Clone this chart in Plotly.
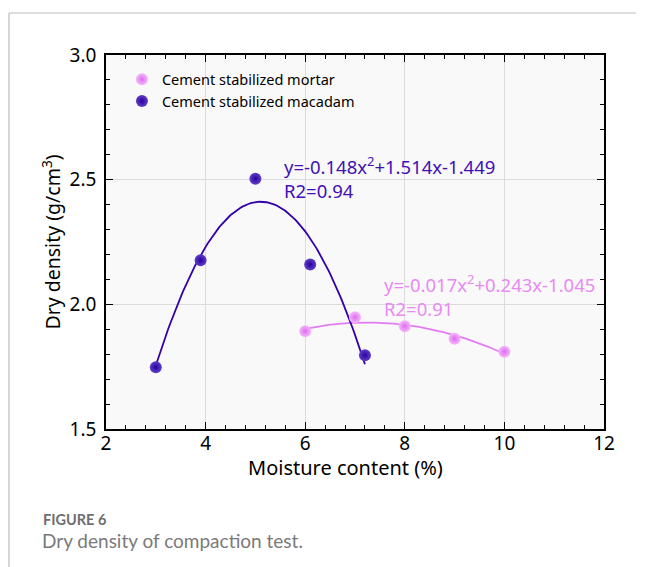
import numpy as np
import plotly.graph_objects as go

# Data
mortar_x = [6, 7, 8, 9, 10]
mortar_y = [1.892, 1.948, 1.912, 1.862, 1.810]
macadam_x = [3.0, 3.9, 5.0, 6.1, 7.2]
macadam_y = [1.748, 2.177, 2.504, 2.160, 1.796]

mortar_eq = "y=-0.017x<sup>2</sup>+0.243x-1.045<br>R2=0.91"
macadam_eq = "y=-0.148x<sup>2</sup>+1.514x-1.449<br>R2=0.94"

C_MAC = "#3300AA"
C_MOR = "#E27CF2"

FONT = "Noto Sans"

# page body has an 8px margin: figure is drawn at (8, 8)
PL, PT, PW, PH = 98, 47, 498, 374
W, H = 638, 559

def px_x(px):
    return (px - 8 - PL) / PW

def px_y(py):
    return 1 - (py - 8 - PT) / PH

def fit_curve(xs, ys):
    c = np.polyfit(xs, ys, 2)
    xx = np.linspace(min(xs), max(xs), 120)
    return xx, np.polyval(c, xx)

fig = go.Figure()

mx, my = fit_curve(mortar_x, mortar_y)
kx, ky = fit_curve(macadam_x, macadam_y)

fig.add_trace(go.Scatter(x=mx, y=my, mode="lines", line=dict(color=C_MOR, width=1.8),
                         showlegend=False, hoverinfo="skip"))
fig.add_trace(go.Scatter(x=kx, y=ky, mode="lines", line=dict(color=C_MAC, width=1.8),
                         showlegend=False, hoverinfo="skip"))

fig.add_trace(go.Scatter(x=mortar_x, y=mortar_y, mode="markers", name="Cement stabilized mortar",
                         marker=dict(size=12, color="#F5B8FA",
                                     gradient=dict(type="radial", color="#DE6CF0"),
                                     line=dict(width=0))))
fig.add_trace(go.Scatter(x=macadam_x, y=macadam_y, mode="markers", name="Cement stabilized macadam",
                         marker=dict(size=12, color="#6040C8",
                                     gradient=dict(type="radial", color="#2A00A0"),
                                     line=dict(width=0))))

fig.add_annotation(x=5.54, y=2.508, xref="x", yref="y", text=macadam_eq, showarrow=False,
                   xanchor="left", yanchor="middle", align="left",
                   font=dict(family=FONT, size=18.5, color="#3F10B8"))
fig.add_annotation(x=7.54, y=2.034, xref="x", yref="y", text=mortar_eq, showarrow=False,
                   xanchor="left", yanchor="middle", align="left",
                   font=dict(family=FONT, size=18.5, color="#E88AF2"))

# Outer frame (top and left edges only visible)
fig.add_shape(type="line", xref="paper", yref="paper",
              x0=px_x(9), x1=px_x(636), y0=px_y(13), y1=px_y(13),
              line=dict(color="#BDBDBD", width=1.2), layer="below")
fig.add_shape(type="line", xref="paper", yref="paper",
              x0=px_x(9), x1=px_x(9), y0=px_y(13), y1=px_y(620),
              line=dict(color="#BDBDBD", width=1.2), layer="below")

# x-axis title (slightly left of centre as in the original)
fig.add_annotation(x=px_x(345.5), y=px_y(467), xref="paper", yref="paper",
                   text="Moisture content (%)", showarrow=False, xanchor="center", yanchor="middle",
                   font=dict(family=FONT, size=20, color="black"))

# Caption
fig.add_annotation(x=px_x(41), y=px_y(519), xref="paper", yref="paper",
                   text="<b>FIGURE 6</b>", showarrow=False, xanchor="left", yanchor="middle",
                   font=dict(family="Lato", size=14.5, color="#6E6E6E"))
fig.add_annotation(x=px_x(40), y=px_y(540), xref="paper", yref="paper",
                   text="Dry density of compaction test.", showarrow=False, xanchor="left",
                   yanchor="middle", font=dict(family="Lato", size=19, color="#7A7A7A"))

axis_common = dict(showline=True, linecolor="black", linewidth=1.5, mirror="ticks",
                   ticks="inside", ticklen=7, tickwidth=1.2, tickcolor="black",
                   showgrid=True, gridcolor="#DCDCDC", gridwidth=1, zeroline=False,
                   tickfont=dict(family=FONT, size=19, color="black"))

fig.update_xaxes(range=[2, 12], dtick=2, tick0=2, ticklabelstandoff=-4,
                 minor=dict(dtick=0.4, ticks="inside", ticklen=4, tickcolor="black", showgrid=False),
                 **axis_common)
fig.update_yaxes(range=[1.5, 3.0], dtick=0.5, tick0=1.5, tickformat=".1f", ticklabelstandoff=4,
                 minor=dict(dtick=0.1, ticks="inside", ticklen=4, tickcolor="black", showgrid=False),
                 title=dict(text="Dry density (g/cm<sup>3</sup>)", font=dict(family=FONT, size=19.5, color="black"),
                            standoff=4),
                 **axis_common)

fig.update_layout(
    width=W, height=H,
    margin=dict(l=PL, r=W - PL - PW, t=PT, b=H - PT - PH),
    paper_bgcolor="white", plot_bgcolor="#F9F9F9",
    legend=dict(x=0.032, y=0.978, xanchor="left", yanchor="top", bgcolor="rgba(0,0,0,0)",
                font=dict(family=FONT, size=14.5, color="black"), itemsizing="constant",
                tracegroupgap=0),
    showlegend=True,
)

fig.write_html("out.html")
